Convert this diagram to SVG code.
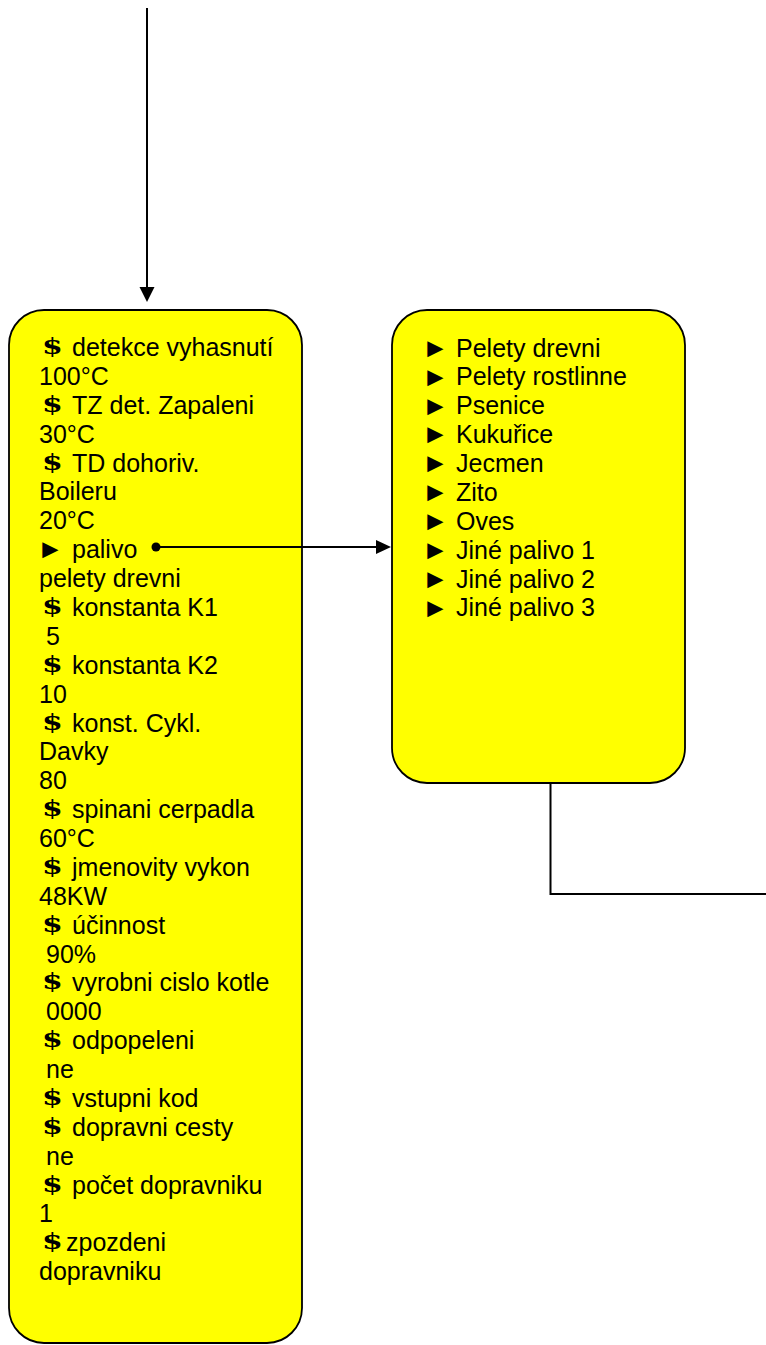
<svg xmlns="http://www.w3.org/2000/svg" width="766" height="1345" viewBox="0 0 766 1345">
<style>
.box{fill:#FFFF00;stroke:#000;stroke-width:1.8}
.t{font-family:"Liberation Sans",Arial,sans-serif;font-size:25px;fill:#000}
.s{font-family:"DejaVu Serif","Liberation Serif",serif;font-weight:bold;font-size:23px;fill:#000}
.a{font-family:"Liberation Sans","DejaVu Sans",sans-serif;font-size:27px;fill:#000}
.ln{stroke:#000;stroke-width:2;fill:none}
</style>
<rect width="766" height="1345" fill="#fff"/>
<g id="settings">
<rect class="box" x="9" y="310" width="293" height="1033" rx="35"/>
<text class="s" transform="translate(42,354) scale(1.3,1)">$</text><text class="t" x="72" y="356">detekce vyhasnutí</text>
<text class="t" x="39" y="384.9">100°C</text>
<text class="s" transform="translate(42,411.8) scale(1.3,1)">$</text><text class="t" x="72" y="413.8">TZ det. Zapaleni</text>
<text class="t" x="39" y="442.6">30°C</text>
<text class="s" transform="translate(42,469.5) scale(1.3,1)">$</text><text class="t" x="72" y="471.5">TD dohoriv.</text>
<text class="t" x="39" y="500.4">Boileru</text>
<text class="t" x="39" y="529.3">20°C</text>
<text class="a" x="37" y="558.4">►</text><text class="t" x="72" y="558.2">palivo</text>
<text class="t" x="39" y="587">pelety drevni</text>
<text class="s" transform="translate(42,613.9) scale(1.3,1)">$</text><text class="t" x="72" y="615.9">konstanta K1</text>
<text class="t" x="46" y="644.8">5</text>
<text class="s" transform="translate(42,671.7) scale(1.3,1)">$</text><text class="t" x="72" y="673.7">konstanta K2</text>
<text class="t" x="39" y="702.6">10</text>
<text class="s" transform="translate(42,729.5) scale(1.3,1)">$</text><text class="t" x="72" y="731.5">konst. Cykl.</text>
<text class="t" x="39" y="760.4">Davky</text>
<text class="t" x="39" y="789.2">80</text>
<text class="s" transform="translate(42,816.1) scale(1.3,1)">$</text><text class="t" x="72" y="818.1">spinani cerpadla</text>
<text class="t" x="39" y="847">60°C</text>
<text class="s" transform="translate(42,873.9) scale(1.3,1)">$</text><text class="t" x="72" y="875.9">jmenovity vykon</text>
<text class="t" x="39" y="904.7">48KW</text>
<text class="s" transform="translate(42,931.6) scale(1.3,1)">$</text><text class="t" x="72" y="933.6">účinnost</text>
<text class="t" x="46" y="962.5">90%</text>
<text class="s" transform="translate(42,989.4) scale(1.3,1)">$</text><text class="t" x="72" y="991.4">vyrobni cislo kotle</text>
<text class="t" x="46" y="1020.2">0000</text>
<text class="s" transform="translate(42,1047.1) scale(1.3,1)">$</text><text class="t" x="72" y="1049.1">odpopeleni</text>
<text class="t" x="46" y="1078">ne</text>
<text class="s" transform="translate(42,1104.9) scale(1.3,1)">$</text><text class="t" x="72" y="1106.9">vstupni kod</text>
<text class="s" transform="translate(42,1133.8) scale(1.3,1)">$</text><text class="t" x="72" y="1135.8">dopravni cesty</text>
<text class="t" x="46" y="1164.6">ne</text>
<text class="s" transform="translate(42,1191.5) scale(1.3,1)">$</text><text class="t" x="72" y="1193.5">počet dopravniku</text>
<text class="t" x="39" y="1222.4">1</text>
<text class="s" transform="translate(42,1249.3) scale(1.3,1)">$</text><text class="t" x="66" y="1251.3">zpozdeni</text>
<text class="t" x="39" y="1280.2">dopravniku</text>
</g>
<g id="fuels">
<rect class="box" x="392" y="310" width="293" height="473" rx="35"/>
<text class="a" x="422" y="356.7">►</text><text class="t" x="456" y="356.5">Pelety drevni</text>
<text class="a" x="422" y="385.6">►</text><text class="t" x="456" y="385.4">Pelety rostlinne</text>
<text class="a" x="422" y="414.5">►</text><text class="t" x="456" y="414.3">Psenice</text>
<text class="a" x="422" y="443.3">►</text><text class="t" x="456" y="443.1">Kukuřice</text>
<text class="a" x="422" y="472.2">►</text><text class="t" x="456" y="472">Jecmen</text>
<text class="a" x="422" y="501.1">►</text><text class="t" x="456" y="500.9">Zito</text>
<text class="a" x="422" y="530">►</text><text class="t" x="456" y="529.8">Oves</text>
<text class="a" x="422" y="558.9">►</text><text class="t" x="456" y="558.7">Jiné palivo 1</text>
<text class="a" x="422" y="587.7">►</text><text class="t" x="456" y="587.5">Jiné palivo 2</text>
<text class="a" x="422" y="616.6">►</text><text class="t" x="456" y="616.4">Jiné palivo 3</text>
</g>
<g id="connectors">
<line class="ln" x1="147" y1="8" x2="147" y2="288"/>
<polygon points="139.5,287 154.5,287 147,302"/>
<circle cx="156" cy="547" r="4.5"/>
<line class="ln" x1="156" y1="547" x2="376" y2="547"/>
<polygon points="376,540 376,554 391,547"/>
<polyline class="ln" points="550.5,783 550.5,894 768,894"/>
</g>
</svg>
